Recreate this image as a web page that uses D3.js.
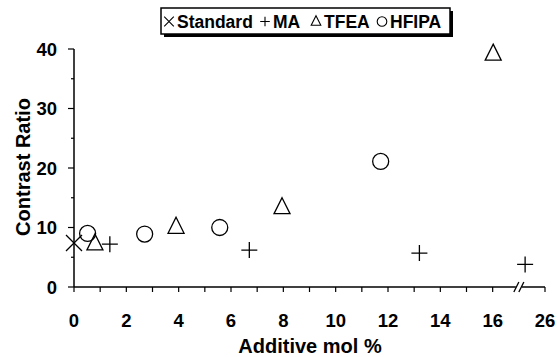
<!DOCTYPE html>
<html>
<head>
<meta charset="utf-8">
<script src="https://cdn.jsdelivr.net/npm/d3@7"></script>
<style>
  body { margin: 0; background: #fff; }
  svg { font-family: "Liberation Sans", Arial, sans-serif; font-weight: bold; }
</style>
</head>
<body>
<div id="chart"></div>
<script>
const standardX = [0]
const standardY = [7.4]
const maX = [1.37, 6.7, 13.2, 22.2]
const maY = [7.2, 6.2, 5.7, 3.8]
const tfeaX = [0.8, 3.9, 7.95, 16.1]
const tfeaY = [7.4, 10.2, 13.5, 39.3]
const hfipaX = [0.52, 2.7, 5.57, 11.72]
const hfipaY = [9.0, 8.9, 10.0, 21.1]

const xTicks = [0, 2, 4, 6, 8, 10, 12, 14, 16, 26]
const xMinor = [1, 3, 5, 7, 9, 11, 13, 15]
const yTicks = [0, 10, 20, 30, 40]
const yMinor = [5, 15, 25, 35]

const width = 558
const height = 357
const margin = { top: 49, right: 13, bottom: 70, left: 74 }

const svg = d3.select("#chart")
  .append("svg")
  .attr("width", width)
  .attr("height", height)

// axis is broken between 16 and 26
const unit = (width - margin.left - margin.right) / 18
const x = d3.scaleLinear()
  .domain([0, 16, 26])
  .range([margin.left, margin.left + 16 * unit, margin.left + 18 * unit])

const y = d3.scaleLinear()
  .domain([0, 40])
  .range([height - margin.bottom, margin.top])

const x0 = x(0), y0 = y(0)

// axes
svg.append("line")
  .attr("x1", x0).attr("x2", x(26))
  .attr("y1", y0).attr("y2", y0)
  .attr("stroke", "#000").attr("stroke-width", 1.5)
svg.append("line")
  .attr("x1", x0).attr("x2", x0)
  .attr("y1", y0).attr("y2", y(40))
  .attr("stroke", "#000").attr("stroke-width", 1.5)

svg.selectAll(".xt")
  .data(xTicks.concat(xMinor))
  .join("line")
  .attr("x1", d => x(d)).attr("x2", d => x(d))
  .attr("y1", y0).attr("y2", y0 + 5)
  .attr("stroke", "#000").attr("stroke-width", 1.2)

svg.selectAll(".yt")
  .data(yTicks)
  .join("line")
  .attr("x1", x0 - 6).attr("x2", x0)
  .attr("y1", d => y(d)).attr("y2", d => y(d))
  .attr("stroke", "#000").attr("stroke-width", 1.2)
svg.selectAll(".ym")
  .data(yMinor)
  .join("line")
  .attr("x1", x0 - 3).attr("x2", x0)
  .attr("y1", d => y(d)).attr("y2", d => y(d))
  .attr("stroke", "#000").attr("stroke-width", 1.2)

// break marks
const bx = margin.left + 17 * unit
svg.append("rect")
  .attr("x", bx - 3).attr("y", y0 - 3).attr("width", 6).attr("height", 6)
  .attr("fill", "#fff")
for (const dx of [-2.5, 2.5]) {
  svg.append("line")
    .attr("x1", bx + dx - 2.5).attr("x2", bx + dx + 2.5)
    .attr("y1", y0 + 5).attr("y2", y0 - 5)
    .attr("stroke", "#000").attr("stroke-width", 1.3)
}

svg.selectAll(".xl")
  .data(xTicks)
  .join("text")
  .attr("x", d => x(d)).attr("y", 327)
  .attr("text-anchor", "middle")
  .attr("font-size", 18.5)
  .text(d => d)

svg.selectAll(".yl")
  .data(yTicks)
  .join("text")
  .attr("x", 57).attr("y", d => y(d) + 6.5)
  .attr("text-anchor", "end")
  .attr("font-size", 18.5)
  .text(d => d)

svg.append("text")
  .attr("x", 310).attr("y", 353)
  .attr("text-anchor", "middle")
  .attr("font-size", 20)
  .text("Additive mol %")

svg.append("text")
  .attr("transform", "translate(30,167) rotate(-90)")
  .attr("text-anchor", "middle")
  .attr("font-size", 20)
  .text("Contrast Ratio")

// markers
function cross(g, s) {
  g.append("path").attr("d", `M${-s},${-s}L${s},${s}M${-s},${s}L${s},${-s}`)
}
function plus(g, s) {
  g.append("path").attr("d", `M${-s},0L${s},0M0,${-s}L0,${s}`)
}
function tri(g, s) {
  g.append("path").attr("d", `M0,${-s - 1}L${s},${s - 1}L${-s},${s - 1}Z`)
}
function circ(g, s) {
  g.append("circle").attr("r", s)
}

function drawSeries(xs, ys, shape) {
  xs.forEach((v, i) => {
    const g = svg.append("g")
      .attr("transform", `translate(${x(v)},${y(ys[i])})`)
      .attr("fill", "none").attr("stroke", "#000").attr("stroke-width", 1.3)
    shape(g, 8)
  })
}
drawSeries(standardX, standardY, cross)
drawSeries(maX, maY, plus)
drawSeries(tfeaX, tfeaY, tri)
drawSeries(hfipaX, hfipaY, circ)

// legend
const lg = svg.append("g")
lg.append("rect")
  .attr("x", 164).attr("y", 11).attr("width", 289).attr("height", 26)
  .attr("fill", "#000")
lg.append("rect")
  .attr("x", 161).attr("y", 8).attr("width", 289).attr("height", 26)
  .attr("fill", "#fff").attr("stroke", "#000").attr("stroke-width", 1.5)

const items = [
  { label: "Standard", shape: cross, x: 169, tx: 177 },
  { label: "MA", shape: plus, x: 265, tx: 273 },
  { label: "TFEA", shape: tri, x: 316, tx: 324 },
  { label: "HFIPA", shape: circ, x: 382, tx: 390 }
]
items.forEach(it => {
  const g = lg.append("g")
    .attr("transform", `translate(${it.x},21.5)`)
    .attr("fill", "none").attr("stroke", "#000").attr("stroke-width", 1.1)
  it.shape(g, 4.8)
  lg.append("text")
    .attr("x", it.tx).attr("y", 28)
    .attr("font-size", 17.5)
    .text(it.label)
})
</script>
</body>
</html>
